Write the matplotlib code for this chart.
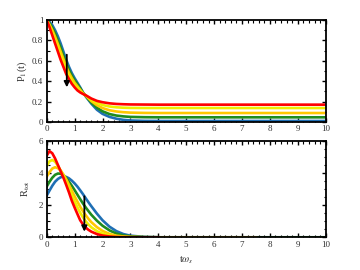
import matplotlib
matplotlib.use("Agg")
import matplotlib.pyplot as plt
from matplotlib.ticker import MultipleLocator

plt.rcParams['font.family'] = ['Liberation Serif', 'DejaVu Serif']
plt.rcParams['mathtext.fontset'] = 'stix'

# ---- data ----
t_p = [0, 0.1, 0.2, 0.3, 0.4, 0.5, 0.6, 0.7, 0.8, 0.9, 1.0, 1.1, 1.2, 1.3, 1.4,
       1.6, 1.8, 2.0, 2.25, 2.5, 2.75, 3.0, 3.5, 4.0, 5.0, 10.0]
p_blue = [1, .98, .95, .90, .84, .77, .69, .61, .54, .48, .43, .385, .34, .29, .25,
          .18, .12, .08, .05, .032, .021, .015, .011, .01, .01, .01]
p_green = [1, .97, .925, .87, .80, .73, .65, .575, .51, .455, .41, .37, .33, .288, .255,
           .19, .14, .105, .078, .063, .055, .05, .047, .046, .046, .046]
p_gold = [1, .955, .90, .835, .765, .69, .615, .54, .48, .43, .385, .35, .315, .283, .258,
          .205, .165, .137, .115, .103, .096, .092, .089, .088, .088, .088]
p_yellow = [1, .94, .875, .80, .73, .65, .578, .505, .45, .40, .362, .33, .302, .279, .26,
            .218, .188, .167, .152, .144, .14, .138, .137, .137, .137, .137]
p_red = [1, .93, .85, .77, .69, .61, .54, .47, .42, .375, .34, .31, .29, .275, .262,
         .23, .207, .194, .183, .177, .174, .172, .171, .17, .17, .17]

t_r = [0, 0.1, 0.2, 0.3, 0.4, 0.5, 0.6, 0.7, 0.8, 0.9, 1.0, 1.1, 1.2, 1.3, 1.4, 1.5,
       1.6, 1.8, 2.0, 2.25, 2.5, 2.75, 3.0, 3.5, 4.0]
r_blue = [2.59, 2.9, 3.2, 3.45, 3.62, 3.73, 3.77, 3.75, 3.66, 3.52, 3.35, 3.15, 2.92, 2.68,
          2.42, 2.17, 1.93, 1.47, 1.06, 0.66, 0.38, 0.2, 0.1, 0.025, 0.005]
r_green = [3.15, 3.45, 3.7, 3.88, 3.96, 3.95, 3.85, 3.68, 3.45, 3.2, 2.93, 2.65, 2.37, 2.1,
           1.85, 1.62, 1.4, 1.03, 0.72, 0.43, 0.23, 0.12, 0.06, 0.013, 0.003]
r_gold = [3.77, 4.05, 4.27, 4.35, 4.3, 4.15, 3.9, 3.6, 3.25, 2.9, 2.55, 2.22, 1.9, 1.62,
          1.37, 1.14, 0.94, 0.63, 0.4, 0.21, 0.1, 0.05, 0.02, 0.005, 0.0]
r_yellow = [4.43, 4.72, 4.8, 4.7, 4.45, 4.15, 3.8, 3.42, 3.02, 2.62, 2.22, 1.86, 1.53, 1.24,
            0.99, 0.79, 0.62, 0.38, 0.23, 0.1, 0.04, 0.015, 0.005, 0.0, 0.0]
r_red = [5.07, 5.35, 5.22, 4.9, 4.5, 4.1, 3.7, 3.25, 2.78, 2.27, 1.85, 1.45, 1.06, 0.8,
         0.6, 0.46, 0.35, 0.2, 0.11, 0.05, 0.02, 0.008, 0.003, 0.0, 0.0]
# tails (series end points)
t_tail_long = [4.0, 10.0]
t_tail_gold = [4.0, 7.5]
tail_zero = [0.0, 0.0]

colors = {'blue': '#1f6fb4', 'green': '#1e8c1e', 'gold': '#ffc800',
          'yellow': '#eeee00', 'red': '#ff0000'}

fig = plt.figure(figsize=(3.6, 2.7), dpi=100)
ax1 = fig.add_axes([46.7/360, (270-122)/270, 279/360, 102/270])
ax2 = fig.add_axes([46.7/360, (270-237.3)/270, 279/360, 96.6/270])

lw = 1.9
for vals, c in [(p_blue, 'blue'), (p_green, 'green'), (p_gold, 'gold'),
                (p_yellow, 'yellow'), (p_red, 'red')]:
    ax1.plot(t_p, vals, color=colors[c], lw=lw, solid_capstyle='butt')

ax2.plot(t_r + t_tail_long, r_blue + tail_zero, color=colors['blue'], lw=lw)
ax2.plot(t_r + t_tail_long, r_green + tail_zero, color=colors['green'], lw=lw)
ax2.plot(t_r + t_tail_gold, r_gold + tail_zero, color=colors['gold'], lw=lw)
ax2.plot(t_r, r_yellow, color=colors['yellow'], lw=lw)
ax2.plot(t_r, r_red, color=colors['red'], lw=lw)

ax1.annotate('', xy=(0.72, 0.34), xytext=(0.72, 0.66),
             arrowprops=dict(arrowstyle='-|>', color='black', lw=1.3,
                             mutation_scale=8, shrinkA=0, shrinkB=0))
ax2.annotate('', xy=(1.35, 0.35), xytext=(1.35, 2.55),
             arrowprops=dict(arrowstyle='-|>', color='black', lw=1.3,
                             mutation_scale=8, shrinkA=0, shrinkB=0))

ax1.set_xlim(0, 10)
ax1.set_ylim(0, 1)
ax2.set_xlim(0, 10)
ax2.set_ylim(0, 6)
ax1.xaxis.set_major_locator(MultipleLocator(1))
ax1.xaxis.set_minor_locator(MultipleLocator(0.2))
ax1.yaxis.set_major_locator(MultipleLocator(0.2))
ax1.yaxis.set_minor_locator(MultipleLocator(0.1))
ax2.xaxis.set_major_locator(MultipleLocator(1))
ax2.xaxis.set_minor_locator(MultipleLocator(0.2))
ax2.yaxis.set_major_locator(MultipleLocator(2))
ax2.yaxis.set_minor_locator(MultipleLocator(0.5))

ax1.set_yticks([0, 0.2, 0.4, 0.6, 0.8, 1.0])
ax1.set_yticklabels(['0', '0.2', '0.4', '0.6', '0.8', '1'])

for ax in (ax1, ax2):
    for s in ax.spines.values():
        s.set_linewidth(1.3)
    ax.tick_params(which='both', direction='in', top=True, right=True,
                   labelsize=6.5, colors='black', labelcolor='#333333', pad=2.5)
    ax.tick_params(which='major', length=3, width=1.0)
    ax.tick_params(which='minor', length=1.8, width=0.8)

ax1.set_ylabel(r'P$_1$(t)', fontsize=7.5, labelpad=2, color='#333333')
ax2.set_ylabel(r'R$_{\rm tot}$', fontsize=7.5, labelpad=5, color='#333333')
ax2.set_xlabel(r't$\omega_s$', fontsize=7.5, labelpad=4, color='#333333')

fig.savefig('out.png', dpi=100)
